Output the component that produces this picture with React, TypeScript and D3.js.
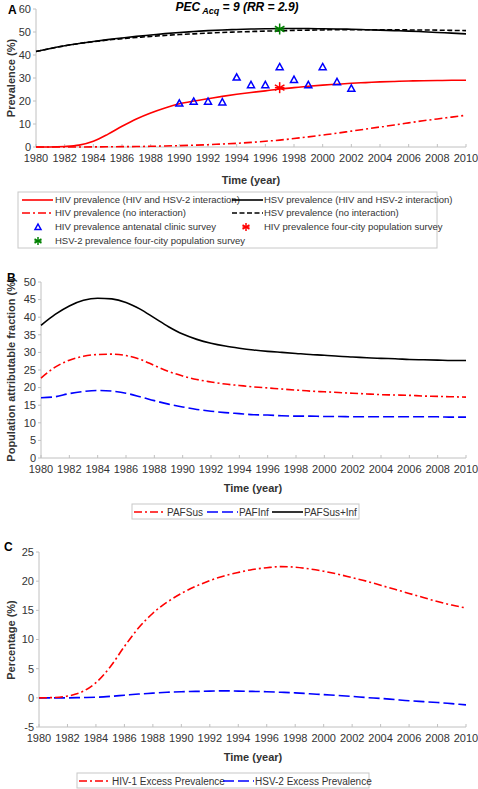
import React from "react";
import * as d3 from "d3";

const years = d3.range(1980, 2011);
const xTicks = d3.range(1980, 2011, 2);

// Panel A
const hivInteraction = [0, 0, 0.2, 0.8, 2.5, 5.5, 9, 12.2, 14.8, 17, 18.8, 20, 21, 22, 22.9, 23.7, 24.4, 25.2, 25.8, 26.4, 26.9, 27.3, 27.7, 28, 28.3, 28.5, 28.7, 28.8, 28.9, 29, 29];
const hivNoInteraction = [0, 0, 0, 0, 0.05, 0.1, 0.15, 0.2, 0.3, 0.45, 0.6, 0.8, 1.0, 1.3, 1.6, 2.0, 2.5, 3.0, 3.7, 4.4, 5.2, 6.0, 6.9, 7.8, 8.7, 9.6, 10.5, 11.4, 12.2, 13.0, 13.8];
const hsvInteraction = [41.5, 42.8, 44, 45, 45.9, 46.7, 47.4, 48.1, 48.7, 49.3, 49.8, 50.2, 50.6, 50.9, 51.1, 51.3, 51.4, 51.5, 51.5, 51.5, 51.4, 51.3, 51.2, 51.0, 50.8, 50.6, 50.4, 50.1, 49.8, 49.5, 49.2];
const hsvNoInteraction = [41.5, 42.8, 44, 45, 45.8, 46.5, 47.1, 47.6, 48.1, 48.5, 48.9, 49.2, 49.5, 49.8, 50.0, 50.2, 50.4, 50.5, 50.7, 50.8, 50.9, 51.0, 51.0, 51.0, 51.0, 51.0, 50.9, 50.9, 50.8, 50.7, 50.6];
const clinicYears = [1990, 1991, 1992, 1993, 1994, 1995, 1996, 1997, 1998, 1999, 2000, 2001, 2002];
const clinicValues = [19, 19.8, 19.8, 19.5, 30.3, 27, 27, 34.8, 29.3, 27, 34.8, 28.3, 25.5];
const surveyYear = 1997;
const hivSurvey = 25.8;
const hsvSurvey = 51.3;
const yTicksA = [0, 10, 20, 30, 40, 50, 60];

// Panel B
const pafSus = [22.7, 25.8, 27.8, 28.9, 29.4, 29.5, 29.1, 28.0, 26.3, 24.6, 23.3, 22.3, 21.6, 21.0, 20.6, 20.2, 19.9, 19.6, 19.3, 19.0, 18.8, 18.6, 18.4, 18.2, 18.0, 17.9, 17.8, 17.6, 17.5, 17.4, 17.3];
const pafInf = [17.1, 17.4, 18.3, 18.9, 19.2, 19.0, 18.4, 17.4, 16.3, 15.3, 14.5, 13.8, 13.3, 12.9, 12.6, 12.3, 12.2, 12.0, 11.9, 11.9, 11.8, 11.8, 11.7, 11.7, 11.7, 11.7, 11.7, 11.7, 11.7, 11.6, 11.6];
const pafSusInf = [37.7, 40.8, 43.2, 44.8, 45.4, 45.2, 44.2, 42.3, 39.8, 37.3, 35.2, 33.7, 32.6, 31.8, 31.2, 30.7, 30.3, 30.0, 29.7, 29.4, 29.2, 28.9, 28.7, 28.5, 28.3, 28.2, 28.0, 27.9, 27.8, 27.7, 27.7];
const yTicksB = [0, 5, 10, 15, 20, 25, 30, 35, 40, 45, 50];

// Panel C
const hivExcess = [0, 0.05, 0.3, 1.0, 2.6, 5.3, 8.8, 12.0, 14.5, 16.4, 17.9, 19.1, 20.1, 20.9, 21.5, 22.0, 22.3, 22.5, 22.4, 22.1, 21.7, 21.2, 20.6, 20.0, 19.3, 18.6, 17.9, 17.2, 16.5, 15.9, 15.4];
const hsvExcess = [0, 0, 0, 0.05, 0.1, 0.25, 0.45, 0.65, 0.8, 0.95, 1.05, 1.1, 1.15, 1.2, 1.15, 1.1, 1.05, 0.95, 0.85, 0.7, 0.55, 0.4, 0.25, 0.05, -0.1, -0.3, -0.5, -0.65, -0.8, -1.0, -1.2];
const yTicksC = [-5, 0, 5, 10, 15, 20, 25];

const FONT = "'Liberation Sans', Arial, sans-serif";
const RED = "#ff0000";
const BLUE = "#0000ff";
const BLACK = "#000000";
const GREEN = "#008000";
const AXIS = "#c0c0c0";
const TXT = "#333333";
const DASHDOT = "8,3,2,3";
const LONGDASH = "11,4";
const SHORTDASH = "5,2.5";

type Series = { values: number[]; color: string; dash?: string; width?: number };

function Axes({ x, y, yTicks }: { x: d3.ScaleLinear<number, number>; y: d3.ScaleLinear<number, number>; yTicks: number[] }) {
  const [x0, x1] = x.range();
  const [yb, yt] = y.range();
  return (
    <g>
      <line x1={x0} x2={x0} y1={yb} y2={yt} stroke={AXIS} />
      <line x1={x0} x2={x1} y1={yb} y2={yb} stroke={AXIS} />
      {yTicks.map((t) => (
        <g key={t}>
          <line x1={x0 - 3} x2={x0} y1={y(t)} y2={y(t)} stroke={AXIS} />
          <text x={x0 - 5} y={y(t)} dy="0.35em" textAnchor="end" fontSize={11} fill={TXT}>{t}</text>
        </g>
      ))}
      {xTicks.map((t) => (
        <g key={t}>
          <line x1={x(t)} x2={x(t)} y1={yb} y2={yb - 3} stroke={AXIS} />
          <text x={x(t)} y={yb + 15} textAnchor="middle" fontSize={11} fill={TXT}>{t}</text>
        </g>
      ))}
    </g>
  );
}

function Lines({ x, y, series }: { x: d3.ScaleLinear<number, number>; y: d3.ScaleLinear<number, number>; series: Series[] }) {
  const gen = d3
    .line<number>()
    .x((_, i) => x(years[i]))
    .y((d) => y(d))
    .curve(d3.curveMonotoneX);
  return (
    <g>
      {series.map((s, i) => (
        <path key={i} d={gen(s.values) || ""} fill="none" stroke={s.color} strokeWidth={s.width ?? 1.6} strokeDasharray={s.dash} />
      ))}
    </g>
  );
}

function Star({ cx, cy, color, r = 5 }: { cx: number; cy: number; color: string; r?: number }) {
  const angles = [0, 60, 120];
  return (
    <g stroke={color} strokeWidth={1.5}>
      {angles.map((a) => {
        const rad = (a * Math.PI) / 180;
        return <line key={a} x1={cx + r * Math.sin(rad)} y1={cy - r * Math.cos(rad)} x2={cx - r * Math.sin(rad)} y2={cy + r * Math.cos(rad)} />;
      })}
      <line x1={cx - r * 0.866} x2={cx + r * 0.866} y1={cy} y2={cy} />
    </g>
  );
}

function Tri({ cx, cy, color, s = 3.5 }: { cx: number; cy: number; color: string; s?: number }) {
  return <path d={`M${cx},${cy - s}L${cx + s},${cy + s * 0.8}L${cx - s},${cy + s * 0.8}Z`} fill="none" stroke={color} strokeWidth={1.5} />;
}

function LegendLine({ x, y, color, dash }: { x: number; y: number; color: string; dash?: string }) {
  return <line x1={x} x2={x + 31} y1={y} y2={y} stroke={color} strokeWidth={1.6} strokeDasharray={dash} />;
}

export default function App() {
  // Panel A
  const xA = d3.scaleLinear().domain([1980, 2010]).range([36, 466]);
  const yA = d3.scaleLinear().domain([0, 60]).range([147, 9]);
  // Panel B
  const xB = d3.scaleLinear().domain([1980, 2010]).range([41, 466]);
  const yB = d3.scaleLinear().domain([0, 50]).range([458, 282]);
  // Panel C
  const xC = d3.scaleLinear().domain([1980, 2010]).range([39, 466]);
  const yC = d3.scaleLinear().domain([-5, 25]).range([727, 552]);

  return (
    <div style={{ position: "absolute", left: 0, top: 0 }}>
      <svg width={478} height={789} style={{ display: "block", fontFamily: FONT }}>
        <rect width={478} height={789} fill="#ffffff" />

        {/* Panel A */}
        <text x={8} y={14} fontSize={12} fontWeight="bold" fill={BLACK}>A</text>
        <text x={237} y={11} textAnchor="middle" fontSize={12} fontWeight="bold" fontStyle="italic" fill={BLACK}>
          PEC<tspan fontSize={9} dy={3}> Acq</tspan><tspan dy={-3}> = 9 (RR = 2.9)</tspan>
        </text>
        <Axes x={xA} y={yA} yTicks={yTicksA} />
        <Lines
          x={xA}
          y={yA}
          series={[
            { values: hsvNoInteraction, color: BLACK, dash: SHORTDASH },
            { values: hsvInteraction, color: BLACK },
            { values: hivNoInteraction, color: RED, dash: DASHDOT },
            { values: hivInteraction, color: RED },
          ]}
        />
        {clinicYears.map((yr, i) => (
          <Tri key={yr} cx={xA(yr)} cy={yA(clinicValues[i])} color={BLUE} />
        ))}
        <Star cx={xA(surveyYear)} cy={yA(hivSurvey)} color={RED} r={5.5} />
        <Star cx={xA(surveyYear)} cy={yA(hsvSurvey)} color={GREEN} r={5.5} />
        <text x={251} y={184} textAnchor="middle" fontSize={11} fontWeight="bold" fill={TXT}>Time (year)</text>
        <text transform="translate(15,78) rotate(-90)" textAnchor="middle" fontSize={11} fontWeight="bold" fill={TXT}>Prevalence (%)</text>

        {/* Legend A */}
        <rect x={18} y={192} width={419} height={56} fill="none" stroke="#c8c8c8" />
        <g fontSize={9.5} fill={TXT}>
          <LegendLine x={22} y={200} color={RED} />
          <text x={55} y={200} dy="0.35em">HIV prevalence (HIV and HSV-2 interaction)</text>
          <LegendLine x={232} y={200} color={BLACK} />
          <text x={264} y={200} dy="0.35em">HSV prevalence (HIV and HSV-2 interaction)</text>
          <LegendLine x={22} y={213} color={RED} dash={DASHDOT} />
          <text x={55} y={213} dy="0.35em">HIV prevalence (no interaction)</text>
          <LegendLine x={232} y={213} color={BLACK} dash={SHORTDASH} />
          <text x={264} y={213} dy="0.35em">HSV prevalence (no interaction)</text>
          <Tri cx={38} cy={227} color={BLUE} s={3} />
          <text x={55} y={227} dy="0.35em">HIV prevalence antenatal clinic survey</text>
          <Star cx={246} cy={227} color={RED} r={4} />
          <text x={264} y={227} dy="0.35em">HIV prevalence four-city population survey</text>
          <Star cx={38} cy={241} color={GREEN} r={4} />
          <text x={55} y={241} dy="0.35em">HSV-2 prevalence four-city population survey</text>
        </g>

        {/* Panel B */}
        <text x={7} y={282} fontSize={12} fontWeight="bold" fill={BLACK}>B</text>
        <Axes x={xB} y={yB} yTicks={yTicksB} />
        <Lines
          x={xB}
          y={yB}
          series={[
            { values: pafSusInf, color: BLACK },
            { values: pafSus, color: RED, dash: DASHDOT },
            { values: pafInf, color: BLUE, dash: LONGDASH },
          ]}
        />
        <text x={253} y={492} textAnchor="middle" fontSize={11} fontWeight="bold" fill={TXT}>Time (year)</text>
        <text transform="translate(15,370) rotate(-90)" textAnchor="middle" fontSize={11} fontWeight="bold" fill={TXT}>Population attributable fraction (%)</text>

        {/* Legend B */}
        <rect x={132} y={504} width={227} height={15} fill="none" stroke="#c8c8c8" />
        <g fontSize={10} fill={TXT}>
          <LegendLine x={134} y={512} color={RED} dash={DASHDOT} />
          <text x={167} y={512} dy="0.35em">PAFSus</text>
          <LegendLine x={207} y={512} color={BLUE} dash={LONGDASH} />
          <text x={239} y={512} dy="0.35em">PAFInf</text>
          <LegendLine x={272} y={512} color={BLACK} />
          <text x={304} y={512} dy="0.35em">PAFSus+Inf</text>
        </g>

        {/* Panel C */}
        <text x={4} y={551} fontSize={12} fontWeight="bold" fill={BLACK}>C</text>
        <Axes x={xC} y={yC} yTicks={yTicksC} />
        <Lines
          x={xC}
          y={yC}
          series={[
            { values: hsvExcess, color: BLUE, dash: LONGDASH },
            { values: hivExcess, color: RED, dash: DASHDOT },
          ]}
        />
        <text x={253} y={761} textAnchor="middle" fontSize={11} fontWeight="bold" fill={TXT}>Time (year)</text>
        <text transform="translate(15,640) rotate(-90)" textAnchor="middle" fontSize={11} fontWeight="bold" fill={TXT}>Percentage (%)</text>

        {/* Legend C */}
        <rect x={77} y={773} width={292} height={15} fill="none" stroke="#c8c8c8" />
        <g fontSize={10} fill={TXT}>
          <LegendLine x={79} y={781} color={RED} dash={DASHDOT} />
          <text x={112} y={781} dy="0.35em">HIV-1 Excess Prevalence</text>
          <LegendLine x={223} y={781} color={BLUE} dash={LONGDASH} />
          <text x={255} y={781} dy="0.35em">HSV-2 Excess Prevalence</text>
        </g>
      </svg>
    </div>
  );
}
